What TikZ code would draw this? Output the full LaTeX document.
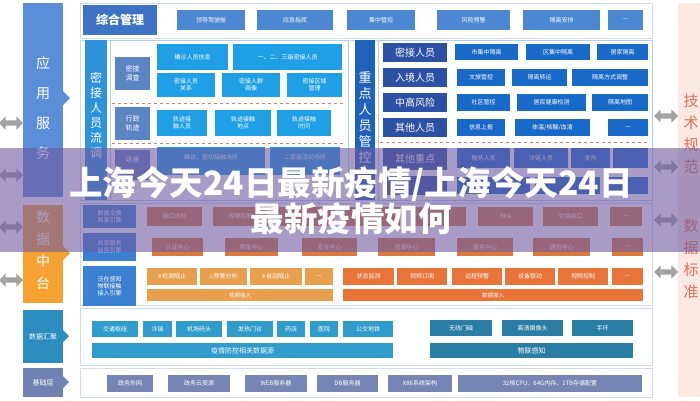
\documentclass[tikz,border=0pt]{standalone}
\usepackage{fontspec}
\setmainfont{Noto Sans CJK SC}
\newfontfamily\sym{DejaVu Sans}
\usetikzlibrary{shapes.arrows}
\definecolor{appblue}{HTML}{5B8ED8}
\definecolor{zhblue}{HTML}{3D72C4}
\definecolor{topbtn}{HTML}{4C87D2}
\definecolor{mjbar}{HTML}{2F92DC}
\definecolor{lblbox}{HTML}{5A84C2}
\definecolor{brt}{HTML}{1E9FE6}
\definecolor{zdbar}{HTML}{1E62BA}
\definecolor{cat}{HTML}{2C50A4}
\definecolor{rbtn}{HTML}{1869C8}
\definecolor{orgmain}{HTML}{F6A233}
\definecolor{engblue}{HTML}{3C80D2}
\definecolor{orgA}{HTML}{D9793F}
\definecolor{orgL}{HTML}{E9A04E}
\definecolor{orgR}{HTML}{E8743A}
\definecolor{hjbox}{HTML}{2C8DBF}
\definecolor{hjbtn}{HTML}{2F9CCB}
\definecolor{hjR}{HTML}{2A7DA3}
\definecolor{jcbox}{HTML}{6F82B2}
\definecolor{jcbtn}{HTML}{7686B4}
\definecolor{pinkbg}{HTML}{FCE9E1}
\definecolor{pinktxt}{HTML}{E0705E}
\definecolor{framec}{HTML}{CFDDEB}
\definecolor{innerc}{HTML}{A8D0F0}
\definecolor{arrowgray}{HTML}{A3A3A3}
\definecolor{dashc}{HTML}{E07878}
\definecolor{bannerc}{RGB}{110,90,160}
\newcommand\bx[7]{\node[#6, minimum width={(#4-#2)*1pt}, minimum height={(#5-#3)*1pt}] (#1) at ({(#2+#4)/2},{(#3+#5)/2}) {#7};}
\tikzset{
  bb/.style={inner sep=0pt, outer sep=0pt, text=white, align=center, font=\fontsize{6}{7}\selectfont},
  frm/.style={inner sep=0pt, outer sep=0pt, draw=framec, line width=0.8pt},
  inner/.style={inner sep=0pt, outer sep=0pt, draw=innerc, line width=0.8pt},
  dashline/.style={draw=dashc, dashed, line width=0.8pt},
  dblarrow/.style={double arrow, fill=arrowgray, draw=none, minimum height=24pt, inner sep=2.5pt, double arrow head extend=4pt},
  vtext/.style={text=white, align=center}
}
\begin{document}
\begin{tikzpicture}[x=1pt,y=-1pt]
\useasboundingbox (0,0) rectangle (700,400);
\fill[white] (0,0) rectangle (700,400);

% ---------- right pink column ----------
\bx{pink}{678}{3}{700}{397}{bb,fill=pinkbg}{}
\node[text=pinktxt, align=center, font=\fontsize{15}{22}\selectfont] (jsgf) at (691,134) {技\\术\\规\\范};
\node[text=pinktxt, align=center, font=\fontsize{15}{22}\selectfont] (sjbz) at (691,259) {数\\据\\标\\准};

% ---------- side arrows ----------
\node[dblarrow] (la1) at (11,123) {};
\node[dblarrow] (la2) at (11,175) {};
\node[dblarrow] (la3) at (11,227) {};
\node[dblarrow] (la4) at (11,280) {};
\node[dblarrow] (ra1) at (666,116) {};
\node[dblarrow] (ra2) at (666,167) {};
\node[dblarrow] (ra3) at (666,220) {};
\node[dblarrow] (ra4) at (666,272) {};

% ---------- left column ----------
\bx{yyfw}{23}{3}{63}{197}{bb,fill=appblue}{}
\fill[appblue] (63,91) -- (70,98) -- (63,105) -- cycle;
\node[vtext, font=\fontsize{14}{30}\selectfont] (yyfwt) at (43,108) {应\\用\\服\\务};
\bx{sjzt}{23}{205}{63}{303}{bb,fill=orgmain}{}
\fill[orgmain] (63,246) -- (70,253) -- (63,260) -- cycle;
\node[vtext, font=\fontsize{14}{22}\selectfont] (sjztt) at (43,250) {数\\据\\中\\台};
\bx{sjhj}{23}{310}{63}{363}{bb,fill=hjbox,font=\fontsize{7}{8}\selectfont}{数据汇聚}
\fill[hjbox] (63,330) -- (69,336) -- (63,342) -- cycle;
\bx{jcc}{23}{368}{63}{397}{bb,fill=jcbox,font=\fontsize{7}{8}\selectfont}{基础层}
\fill[jcbox] (63,376) -- (69,382) -- (63,388) -- cycle;

% ---------- top section ----------
\bx{f1}{80}{3}{652}{38}{frm}{}
\bx{zhgl}{83}{5}{157}{35}{bb,fill=zhblue,font=\fontsize{12}{14}\selectfont\bfseries}{综合管理}
\bx{t1}{177}{10}{245}{30}{bb,fill=topbtn}{领导驾驶舱}
\bx{t2}{257}{10}{333}{30}{bb,fill=topbtn}{应急指挥}
\bx{t3}{347}{10}{415}{30}{bb,fill=topbtn}{集中管控}
\bx{t4}{437}{10}{510}{30}{bb,fill=topbtn}{风险预警}
\bx{t5}{523}{10}{600}{30}{bb,fill=topbtn}{隔离安排}
\bx{t6}{608}{10}{643}{30}{bb,fill=topbtn}{—}

% ---------- second section ----------
\bx{f2}{80}{40}{652}{200}{frm}{}
\bx{mjbar}{85}{40}{107}{200}{bb,fill=mjbar}{}
\node[vtext, font=\fontsize{12}{15}\selectfont] (mjbart) at (96,115) {密\\接\\人\\员\\流\\调};
\bx{lin}{110}{40}{348}{200}{inner}{}
\bx{l1}{115}{57}{150}{90}{bb,fill=lblbox,font=\fontsize{7}{9}\selectfont}{密接\\调查}
\bx{a1}{157}{44}{228}{70}{bb,fill=brt}{确诊人员信息}
\bx{a2}{233}{44}{342}{70}{bb,fill=brt}{一、二、三级密接人员}
\bx{a3}{157}{73}{215}{97}{bb,fill=brt}{密接人员\\关系}
\bx{a4}{222}{73}{280}{97}{bb,fill=brt}{密接人群\\画像}
\bx{a5}{287}{73}{342}{97}{bb,fill=brt}{密接区域\\管理}
\coordinate (d1a) at (112,103); \coordinate (d1b) at (346,103);
\draw[dashline] (d1a) -- (d1b);
\bx{l2}{115}{107}{150}{140}{bb,fill=lblbox,font=\fontsize{7}{9}\selectfont}{行踪\\轨迹}
\bx{b1}{157}{110}{207}{136}{bb,fill=brt}{轨迹接\\触人员}
\bx{b2}{215}{110}{271}{136}{bb,fill=brt}{轨迹接触\\地点}
\bx{b3}{277}{110}{331}{136}{bb,fill=brt}{轨迹接触\\时间}
\coordinate (d2a) at (112,143); \coordinate (d2b) at (346,143);
\draw[dashline] (d2a) -- (d2b);
\bx{l3}{115}{150}{150}{180}{bb,fill=lblbox}{}
\node[vtext, font=\fontsize{7}{8}\selectfont] (l3t) at (132.5,160) {场景};
\bx{c1}{157}{147}{265}{175}{bb,fill=brt}{}
\node[vtext, font=\fontsize{6}{7}\selectfont] (c1t) at (211,157) {确诊、密切接触场所};
\bx{c2}{270}{147}{340}{175}{bb,fill=brt}{}
\node[vtext, font=\fontsize{6}{7}\selectfont] (c2t) at (305,157) {二密接活动场所};

\bx{zdbar}{355}{40}{375}{200}{bb,fill=zdbar}{}
\node[vtext, font=\fontsize{13}{16}\selectfont] (zdbart) at (365,118) {重\\点\\人\\员\\管\\控};
\bx{rin}{378}{40}{652}{200}{inner}{}
\tikzset{catf/.style={bb,fill=cat,font=\fontsize{10}{12}\selectfont}}
\bx{k1}{383}{43}{447}{62}{catf}{密接人员}
\bx{k2}{383}{68}{447}{87}{catf}{入境人员}
\bx{k3}{383}{93}{447}{112}{catf}{中高风险}
\bx{k4}{383}{118}{447}{137}{catf}{其他人员}
\bx{k5}{383}{148}{447}{170}{catf}{其他重点}
\bx{k6}{383}{176}{447}{195}{catf}{}
\bx{r11}{455}{44}{518}{60}{bb,fill=rbtn}{市集中隔离}
\bx{r12}{526}{44}{590}{60}{bb,fill=rbtn}{区集中隔离}
\bx{r13}{597}{44}{648}{60}{bb,fill=rbtn}{居家隔离}
\bx{r21}{457}{69}{505}{86}{bb,fill=rbtn}{文旅管控}
\bx{r22}{512}{69}{567}{86}{bb,fill=rbtn}{隔离转运}
\bx{r23}{572}{69}{648}{86}{bb,fill=rbtn}{隔离方式调整}
\bx{r31}{457}{94}{510}{111}{bb,fill=rbtn}{社区管控}
\bx{r32}{517}{94}{586}{111}{bb,fill=rbtn}{居民健康检测}
\bx{r33}{592}{94}{648}{111}{bb,fill=rbtn}{隔离地图}
\bx{r41}{457}{119}{505}{136}{bb,fill=rbtn}{信息上报}
\bx{r42}{515}{119}{590}{136}{bb,fill=rbtn}{体温/核酸/血清}
\bx{r43}{608}{119}{648}{136}{bb,fill=rbtn}{—}
\coordinate (d3a) at (380,142); \coordinate (d3b) at (650,142);
\draw[dashline] (d3a) -- (d3b);
\bx{r51}{457}{148}{510}{168}{bb,fill=rbtn}{服务人员}
\bx{r52}{514}{148}{568}{168}{bb,fill=rbtn}{冷链人员}
\bx{r53}{571}{148}{610}{168}{bb,fill=rbtn}{发热}
\bx{r54}{613}{148}{648}{168}{bb,fill=rbtn}{}
\bx{r61}{457}{177}{530}{194}{bb,fill=rbtn}{}
\bx{r62}{535}{177}{600}{194}{bb,fill=rbtn}{}
\bx{r63}{608}{177}{648}{194}{bb,fill=rbtn}{}

% ---------- data center section ----------
\bx{f3}{80}{203}{652}{305}{frm}{}
\bx{e1}{83}{205}{136}{228}{bb,fill=engblue}{数据交换\\共享引擎}
\bx{e2}{83}{233}{136}{261}{bb,fill=engblue}{共享服务\\业务引擎}
\bx{e3}{83}{266}{136}{306}{bb,fill=engblue}{泛在感知\\物联接触\\接入引擎}
\bx{s11}{147}{207}{202}{226}{bb,fill=orgA}{接口访问}
\bx{s12}{213}{207}{268}{226}{bb,fill=orgA}{权限控制}
\bx{s13}{279}{207}{334}{226}{bb,fill=orgA}{}
\bx{s14}{345}{207}{400}{226}{bb,fill=orgA}{}
\bx{s15}{411}{207}{466}{226}{bb,fill=orgA}{}
\bx{s16}{478}{207}{533}{226}{bb,fill=orgA}{RPA}
\bx{s17}{543}{207}{598}{226}{bb,fill=orgA}{交换接口}
\bx{s18}{610}{207}{642}{226}{bb,fill=orgA}{—}
\bx{s21}{152}{238}{203}{256}{bb,fill=orgA}{认证中心}
\bx{s22}{225}{238}{278}{256}{bb,fill=orgA}{审批中心}
\bx{s23}{302}{238}{357}{256}{bb,fill=orgA}{安全中心}
\bx{s24}{378}{238}{435}{256}{bb,fill=orgA}{资源中心}
\bx{s25}{457}{238}{513}{256}{bb,fill=orgA}{服务中心}
\bx{s26}{533}{238}{590}{256}{bb,fill=orgA}{通知中心}
\bx{s27}{612}{238}{643}{256}{bb,fill=orgA}{—}
\bx{s31}{147}{268}{197}{285}{bb,fill=orgL}{{\sym\fontsize{5}{6}\selectfont ✗}检测阻止}
\bx{s32}{200}{268}{247}{285}{bb,fill=orgL}{{\sym\fontsize{5}{6}\selectfont ⚠}预警分析}
\bx{s33}{250}{268}{302}{285}{bb,fill=orgL}{{\sym\fontsize{5}{6}\selectfont ✗}自动阻止}
\bx{s34}{305}{268}{333}{285}{bb,fill=orgL}{—}
\bx{s35}{343}{268}{394}{285}{bb,fill=orgR}{状态监测}
\bx{s36}{397}{268}{447}{285}{bb,fill=orgR}{视频订阅}
\bx{s37}{452}{268}{502}{285}{bb,fill=orgR}{远程预警}
\bx{s38}{505}{268}{555}{285}{bb,fill=orgR}{设备联动}
\bx{s39}{558}{268}{608}{285}{bb,fill=orgR}{视频控制}
\bx{s310}{612}{268}{643}{285}{bb,fill=orgR}{—}
\bx{s41}{147}{289}{333}{301}{bb,fill=orgL,font=\fontsize{5.5}{6}\selectfont}{视频接入}
\bx{s42}{343}{289}{643}{301}{bb,fill=orgR,font=\fontsize{5.5}{6}\selectfont}{数据接入}

% ---------- data gathering section ----------
\bx{f4}{80}{308}{652}{365}{frm}{}
\bx{h1}{92}{321}{138}{337}{bb,fill=hjbtn}{交通枢纽}
\bx{h2}{143}{321}{172}{337}{bb,fill=hjbtn}{冷链}
\bx{h3}{176}{321}{222}{337}{bb,fill=hjbtn}{机场码头}
\bx{h4}{227}{321}{273}{337}{bb,fill=hjbtn}{发热门诊}
\bx{h5}{277}{321}{305}{337}{bb,fill=hjbtn}{药店}
\bx{h6}{310}{321}{338}{337}{bb,fill=hjbtn}{医院}
\bx{h7}{343}{321}{393}{337}{bb,fill=hjbtn}{公交地铁}
\bx{h8}{92}{343}{393}{358}{bb,fill=hjbtn,font=\fontsize{7}{8}\selectfont}{疫情防控相关数据源}
\bx{h9}{430}{320}{492}{336}{bb,fill=hjR}{无线门磁}
\bx{h10}{502}{320}{563}{336}{bb,fill=hjR}{高清摄像头}
\bx{h11}{572}{320}{633}{336}{bb,fill=hjR}{手环}
\bx{h12}{430}{343}{633}{358}{bb,fill=hjR,font=\fontsize{7}{8}\selectfont}{物联感知}

% ---------- base layer ----------
\bx{f5}{80}{368}{652}{397}{frm}{}
\bx{j1}{107}{375}{153}{392}{bb,fill=jcbtn}{政务外网}
\bx{j2}{168}{375}{230}{392}{bb,fill=jcbtn}{政务云资源}
\bx{j3}{245}{375}{307}{392}{bb,fill=jcbtn}{WEB服务器}
\bx{j4}{317}{375}{378}{392}{bb,fill=jcbtn}{DB服务器}
\bx{j5}{388}{375}{452}{392}{bb,fill=jcbtn}{X86系统架构}
\bx{j6}{458}{375}{642}{392}{bb,fill=jcbtn}{32核CPU、64G内存、1TB存储配置}

% ---------- banner overlay ----------
\fill[bannerc, opacity=0.6] (0,148) rectangle (700,252);
\node[text=white, align=center, inner sep=0pt, font=\fontsize{33.5}{32}\selectfont\bfseries] (title) at (351,201) {上海今天24日最新疫情/上海今天24日\\最新疫情如何};
\end{tikzpicture}
\end{document}
